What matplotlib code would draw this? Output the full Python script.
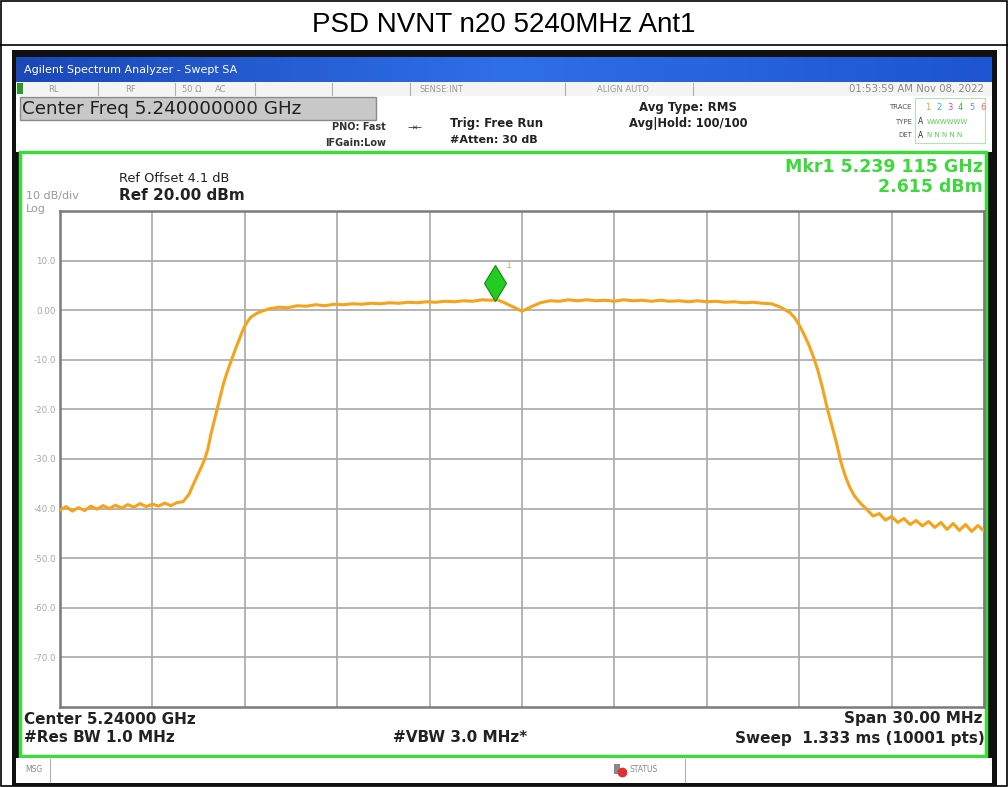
import numpy as np
import matplotlib
matplotlib.use('Agg')
import matplotlib.pyplot as plt
from matplotlib.patches import Rectangle
from matplotlib.transforms import offset_copy

plt.rcParams['font.family'] = ['DejaVu Sans']

# chart values
title = 'PSD NVNT n20 5240MHz Ant1'
start_mhz = 5225.0
span_mhz = 30.0
ref_level = 20.0
db_per_div = 10.0
y_labels = ['10.0', '0.00', '-10.0', '-20.0', '-30.0', '-40.0', '-50.0', '-60.0', '-70.0']

# trace: offset from start frequency (MHz) and level (dBm)
offset_mhz = [0.0, 0.2, 0.4, 0.6, 0.8, 1.0, 1.2, 1.4, 1.6, 1.8, 2.0, 2.2, 2.4, 2.6, 2.8,
              3.0, 3.2, 3.4, 3.6, 3.8, 4.0, 4.1, 4.2, 4.3, 4.4, 4.5, 4.6, 4.7, 4.8, 4.9,
              5.0, 5.1, 5.2, 5.3, 5.4, 5.5, 5.6, 5.7, 5.8, 5.9, 6.0, 6.1, 6.2, 6.4, 6.6,
              6.8, 7.1, 7.4, 7.7, 8.0, 8.3, 8.6, 8.9, 9.2, 9.5, 9.8, 10.1, 10.4, 10.7,
              11.0, 11.3, 11.6, 11.9, 12.2, 12.5, 12.8, 13.1, 13.4, 13.7, 14.0, 14.2,
              14.4, 14.7, 15.0, 15.3, 15.6, 15.9, 16.2, 16.5, 16.8, 17.1, 17.4, 17.7,
              18.0, 18.3, 18.6, 18.9, 19.2, 19.5, 19.8, 20.1, 20.4, 20.7, 21.0, 21.3,
              21.6, 21.9, 22.2, 22.5, 22.8, 23.1, 23.4, 23.7, 23.85, 24.0, 24.15, 24.3,
              24.45, 24.6, 24.75, 24.9, 25.05, 25.2, 25.35, 25.5, 25.65, 25.8, 26.0,
              26.2, 26.4, 26.6, 26.8, 27.0, 27.2, 27.4, 27.6, 27.8, 28.0, 28.2, 28.4,
              28.6, 28.8, 29.0, 29.2, 29.4, 29.6, 29.8, 30.0]
level_dbm = [-40.3, -39.6, -40.5, -39.8, -40.4, -39.5, -40.1, -39.4, -40.0, -39.3, -39.9,
             -39.2, -39.7, -39.0, -39.6, -39.1, -39.5, -38.9, -39.4, -38.8, -38.6, -37.8,
             -37.0, -35.5, -34.2, -32.8, -31.5, -30.0, -28.0, -25.0, -22.5, -20.0, -17.5,
             -15.0, -13.0, -11.2, -9.5, -7.8, -6.2, -4.6, -3.2, -2.2, -1.4, -0.6, -0.1,
             0.3, 0.6, 0.5, 0.9, 0.8, 1.1, 0.9, 1.2, 1.1, 1.3, 1.2, 1.4, 1.3, 1.5,
             1.4, 1.6, 1.5, 1.7, 1.6, 1.8, 1.7, 1.9, 1.8, 2.1, 2.0, 2.1,
             1.6, 0.7, -0.2, 0.7, 1.5, 1.9, 1.8, 2.1, 1.9, 2.1, 1.9, 2.0,
             1.8, 2.1, 1.9, 2.0, 1.8, 2.0, 1.8, 1.9, 1.7, 1.9, 1.7, 1.8,
             1.6, 1.7, 1.5, 1.6, 1.4, 1.3, 0.6, -0.5, -1.5, -3.0, -4.8, -6.8,
             -9.2, -12.0, -15.5, -19.5, -23.0, -26.5, -30.5, -33.5, -35.8, -37.5, -39.0,
             -40.2, -41.5, -41.0, -42.3, -41.6, -42.8, -42.0, -43.2, -42.4, -43.5, -42.6, -43.8,
             -42.8, -44.2, -43.0, -44.4, -43.2, -44.6, -43.4, -44.5]

marker_freq_mhz = 5239.115
marker_level = 2.615

W, H = 1008, 787
fig = plt.figure(figsize=(W / 100, H / 100), dpi=100)

# background layer in pixel coordinates (y down)
bg = fig.add_axes([0, 0, 1, 1])
bg.set_xlim(0, W)
bg.set_ylim(H, 0)
bg.axis('off')

# outer table frame and title
bg.add_patch(Rectangle((0.5, 0.5), W - 1.5, H - 1.5, fill=False, ec='black', lw=1.2))
bg.plot([0, W], [45, 45], color='black', lw=1.2)
bg.text(W / 2, 25, title, ha='center', va='center', fontsize=20, family='Liberation Sans')

# analyzer screenshot
bg.add_patch(Rectangle((12, 50), 985, 736, fc='#101010', ec='none'))
grad = np.linspace(0, 1, 200).reshape(1, -1)
bg.imshow(grad, cmap=matplotlib.colors.LinearSegmentedColormap.from_list('b', ['#1a48b8', '#2f6fe8', '#1d55d0']),
          extent=(16, 992, 82, 57), aspect='auto', zorder=1)
bg.text(24, 70, 'Agilent Spectrum Analyzer - Swept SA', color='white', fontsize=8, va='center', zorder=2)

# status row
bg.add_patch(Rectangle((16, 82), 976, 14, fc='#f4f4f4', ec='none', zorder=1))
bg.add_patch(Rectangle((17, 83), 6, 11, fc='#2a9a2a', ec='none', zorder=2))
for sx in [98, 175, 255, 332, 410, 565, 693]:
    bg.plot([sx, sx], [83, 95], color='#b0b0b0', lw=0.8, zorder=2)
status_txt = [(48, 'RL'), (125, 'RF'), (182, '50 Ω'), (215, 'AC'), (420, 'SENSE:INT'), (597, 'ALIGN AUTO')]
for sx, s in status_txt:
    bg.text(sx, 89, s, color='#9a9a9a', fontsize=6, va='center', zorder=2)
bg.text(984, 89, '01:53:59 AM Nov 08, 2022', color='#888888', fontsize=7.3, va='center', ha='right', zorder=2)

# info area
bg.add_patch(Rectangle((16, 96), 976, 56, fc='white', ec='none', zorder=1))
bg.add_patch(Rectangle((20, 97), 356, 23, fc='#c8c8c8', ec='#8a8a8a', lw=1, zorder=2))
bg.text(22, 109, 'Center Freq 5.240000000 GHz', fontsize=13.2, color='#202020',
        va='center', zorder=3)
bg.text(332, 127, 'PNO: Fast', fontsize=7, fontweight='bold', color='#333333', va='center', zorder=2)
bg.text(325, 143, 'IFGain:Low', fontsize=7, fontweight='bold', color='#333333', va='center', zorder=2)
bg.text(408, 127, '→←', fontsize=6.5, color='#333333', va='center', zorder=2)
bg.text(450, 123, 'Trig: Free Run', fontsize=8.5, fontweight='bold', color='#222222', va='center', zorder=2)
bg.text(450, 140, '#Atten: 30 dB', fontsize=8, fontweight='bold', color='#222222', va='center', zorder=2)
bg.text(688, 107, 'Avg Type: RMS', fontsize=8.5, fontweight='bold', color='#222222', va='center', ha='center', zorder=2)
bg.text(688, 123, 'Avg|Hold: 100/100', fontsize=8.3, fontweight='bold', color='#222222', va='center', ha='center', zorder=2)
bg.add_patch(Rectangle((915, 98), 70, 45, fc='white', ec='#b8e0b8', lw=0.8, zorder=2))
for ty, lab in [(107, 'TRACE'), (122, 'TYPE'), (135, 'DET')]:
    bg.text(912, ty, lab, fontsize=5, color='#555555', va='center', ha='right', zorder=3)
trace_cols = ['#f0a020', '#33aaff', '#cc44cc', '#33bb33', '#6688ff', '#ff6666']
for i, c in enumerate(trace_cols):
    bg.text(925 + i * 11, 107, str(i + 1), fontsize=6, color=c, va='center', zorder=3)
bg.text(918, 122, 'A', fontsize=5.5, color='#333333', va='center', zorder=3)
bg.text(927, 122, 'WWWWWW', fontsize=5, color='#55cc55', va='center', zorder=3)
bg.text(918, 135, 'A', fontsize=5.5, color='#333333', va='center', zorder=3)
bg.text(927, 135, 'N N N N N', fontsize=5, color='#55cc55', va='center', zorder=3)

# measurement area with green frame
bg.add_patch(Rectangle((20, 152), 966, 604, fc='white', ec='#3ddc3d', lw=2.5, zorder=1))
bg.text(119, 178, 'Ref Offset 4.1 dB', fontsize=9.3, color='#222222', va='center', zorder=2)
bg.text(119, 196, 'Ref 20.00 dBm', fontsize=11, fontweight='bold', color='#222222', va='center', zorder=2)
bg.text(26, 196, '10 dB/div', fontsize=8, color='#999999', va='center', zorder=2)
bg.text(26, 209, 'Log', fontsize=8, color='#999999', va='center', zorder=2)
bg.text(983, 167, 'Mkr1 5.239 115 GHz', fontsize=12.5, fontweight='bold', color='#3cd83c',
        va='center', ha='right', zorder=2)
bg.text(983, 187, '2.615 dBm', fontsize=12.5, fontweight='bold', color='#3cd83c',
        va='center', ha='right', zorder=2)
bg.text(24, 719, 'Center 5.24000 GHz', fontsize=11, fontweight='bold', color='#222222', va='center', zorder=2)
bg.text(24, 738, '#Res BW 1.0 MHz', fontsize=11, fontweight='bold', color='#222222', va='center', zorder=2)
bg.text(393, 738, '#VBW 3.0 MHz*', fontsize=11, fontweight='bold', color='#222222', va='center', zorder=2)
bg.text(982, 719, 'Span 30.00 MHz', fontsize=11, fontweight='bold', color='#222222',
        va='center', ha='right', zorder=2)
bg.text(985, 738, 'Sweep  1.333 ms (10001 pts)', fontsize=11, fontweight='bold', color='#222222',
        va='center', ha='right', zorder=2)

# message bar
bg.add_patch(Rectangle((16, 758), 976, 25, fc='white', ec='none', zorder=1))
bg.plot([50, 50], [759, 782], color='#b0b0b0', lw=0.8, zorder=2)
bg.plot([685, 685], [759, 782], color='#b0b0b0', lw=0.8, zorder=2)
bg.text(25, 770, 'MSG', fontsize=5.5, color='#888888', va='center', zorder=2)
bg.add_patch(Rectangle((614, 764), 6, 10, fc='#888888', ec='none', zorder=2))
bg.plot([622], [772], 'o', ms=6, color='#e03030', zorder=3)
bg.text(630, 769, 'STATUS', fontsize=5.5, color='#888888', va='center', zorder=2)

# spectrum plot
left, right, top, bottom = 60, 984, 211, 707
ax = fig.add_axes([left / W, (H - bottom) / H, (right - left) / W, (bottom - top) / H])
freq = start_mhz + np.array(offset_mhz)
ax.plot(freq, level_dbm, color='#f5a31a', lw=2.2, zorder=3)
ax.set_xlim(start_mhz, start_mhz + span_mhz)
ax.set_ylim(ref_level - 10 * db_per_div, ref_level)
ax.set_xticks(np.linspace(start_mhz, start_mhz + span_mhz, 11))
ax.set_xticklabels([])
yt = ref_level - db_per_div * np.arange(1, 10)
ax.set_yticks(yt)
ax.set_yticklabels(y_labels)
ax.tick_params(length=0, labelsize=6.3, labelcolor='#a8a8a8', pad=3)
ax.grid(True, color='#a8a8a8', lw=1.2)
for sp in ax.spines.values():
    sp.set_color('#7a7a7a')
    sp.set_linewidth(1.8)

# marker 1 (diamond sits just above the trace point)
mk_tr = offset_copy(ax.transData, fig=fig, x=0, y=10, units='points')
ax.plot([marker_freq_mhz], [marker_level], marker='d', ms=18, color='#22cc22',
        mec='#118811', mew=0.8, transform=mk_tr, zorder=4)
lab_tr = offset_copy(ax.transData, fig=fig, x=8, y=21, units='points')
ax.text(marker_freq_mhz, marker_level, '1', fontsize=7, color='#bbbb88', transform=lab_tr, zorder=4)

fig.savefig('out.png', dpi=100)
